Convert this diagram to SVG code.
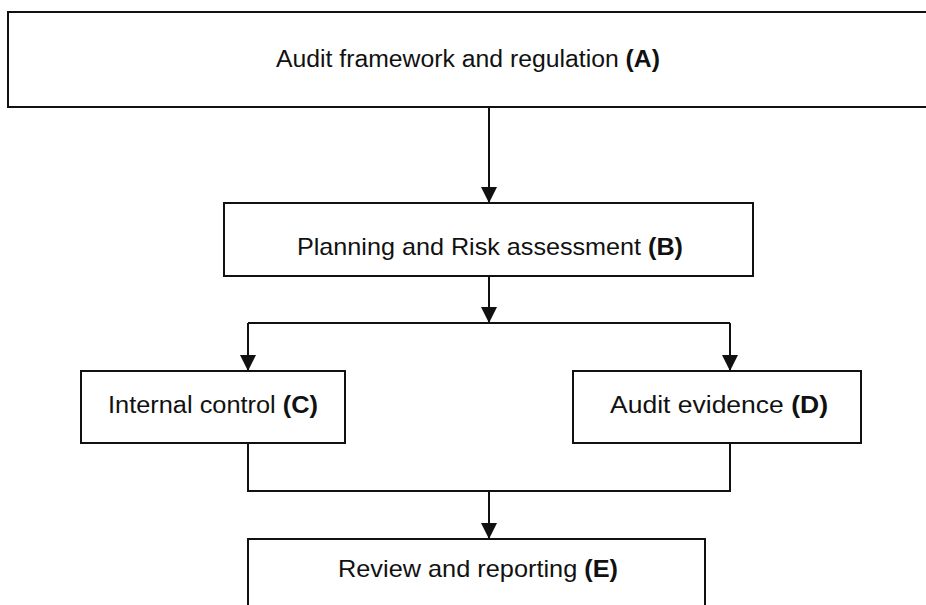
<svg xmlns="http://www.w3.org/2000/svg" width="926" height="605" viewBox="0 0 926 605">
<style>
.box{fill:#fff;stroke:#111;stroke-width:2}
.lbl{font-family:"Liberation Sans","DejaVu Sans",sans-serif;fill:#111}
.b{font-weight:bold}
.conn{fill:none;stroke:#111;stroke-width:2}
</style>
<defs>
<marker id="arr" markerUnits="userSpaceOnUse" markerWidth="16" markerHeight="17" viewBox="0 0 16 17" refX="16" refY="8.5" orient="auto">
<path d="M0,0.5 L16,8.5 L0,16.5 Z" fill="#111"/>
</marker>
</defs>
<rect width="926" height="605" fill="#fff"/>
<g id="nodeA">
<rect class="box" x="8" y="12" width="930" height="95"/>
<text class="lbl" x="276" y="67" font-size="23" textLength="384" lengthAdjust="spacingAndGlyphs">Audit framework and regulation <tspan class="b">(A)</tspan></text>
</g>
<g id="nodeB">
<rect class="box" x="224" y="203" width="529" height="73"/>
<text class="lbl" x="297" y="255" font-size="24" textLength="386" lengthAdjust="spacingAndGlyphs">Planning and Risk assessment <tspan class="b">(B)</tspan></text>
</g>
<g id="nodeC">
<rect class="box" x="81" y="371" width="264" height="72"/>
<text class="lbl" x="108" y="413" font-size="23" textLength="210" lengthAdjust="spacingAndGlyphs">Internal control <tspan class="b">(C)</tspan></text>
</g>
<g id="nodeD">
<rect class="box" x="573" y="371" width="288" height="72"/>
<text class="lbl" x="610" y="413" font-size="23" textLength="218" lengthAdjust="spacingAndGlyphs">Audit evidence <tspan class="b">(D)</tspan></text>
</g>
<g id="nodeE">
<rect class="box" x="248" y="539" width="457" height="80"/>
<text class="lbl" x="338" y="577" font-size="24" textLength="280" lengthAdjust="spacingAndGlyphs">Review and reporting <tspan class="b">(E)</tspan></text>
</g>
<g id="connectors">
<path class="conn" d="M489,107 V203" marker-end="url(#arr)"/>
<path class="conn" d="M489,276 V323" marker-end="url(#arr)"/>
<path class="conn" d="M248,323 H730"/>
<path class="conn" d="M248,323 V371" marker-end="url(#arr)"/>
<path class="conn" d="M730,323 V371" marker-end="url(#arr)"/>
<path class="conn" d="M248,443 V491 H730 V443"/>
<path class="conn" d="M489,491 V539" marker-end="url(#arr)"/>
</g>
</svg>
